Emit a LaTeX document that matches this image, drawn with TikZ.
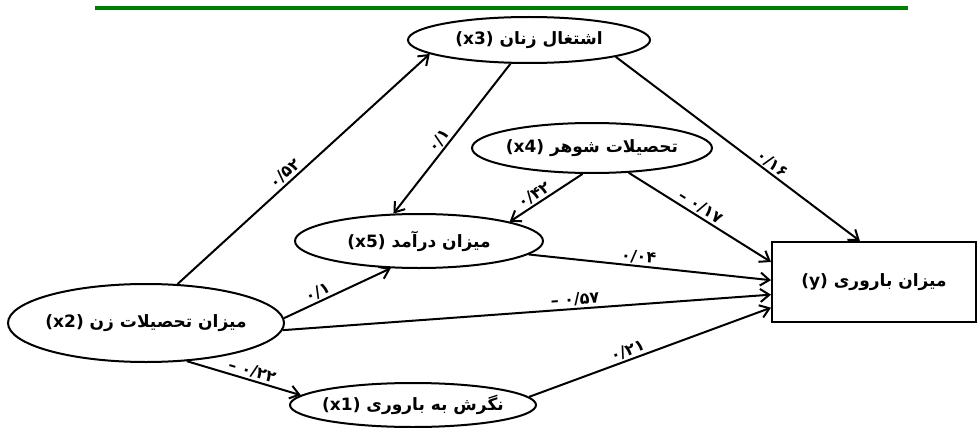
\documentclass[tikz,border=0pt]{standalone}
\usepackage{fontspec}
\setmainfont{DejaVu Sans}
\newfontfamily\fafont[Script=Arabic]{DejaVu Sans}
\TeXXeTstate=1
\usetikzlibrary{arrows.meta, shapes.geometric}
\definecolor{rulegreen}{RGB}{0, 128, 0}
\newcommand{\fa}[1]{{\fafont\beginR #1\endR}}

\begin{document}
\begin{tikzpicture}[x=1pt, y=-1pt,
  every node/.style={font=\bfseries\fontsize{17}{20}\selectfont},
  var/.style={ellipse, draw, line width=2pt, inner ysep=0pt, inner xsep=-40pt},
  coef/.style={font=\bfseries\fontsize{16}{18}\selectfont, sloped, inner sep=1.5pt},
  link/.style={line width=2pt, -{Straight Barb[length=9pt, width=13pt]}}]
  \useasboundingbox (0,0) rectangle (980,428);

  % Top rule
  \draw[rulegreen, line width=4pt] (95,8) -- (908,8);

  % Variables
  \node[var, minimum width=276pt, minimum height=78pt] (edu) at (146,323)
    {(x2)\ \fa{میزان تحصیلات زن}};
  \node[var, minimum width=242pt, minimum height=46pt] (job) at (529,40)
    {(x3)\ \fa{اشتغال زنان}};
  \node[var, minimum width=240pt, minimum height=50pt] (husb) at (592,148)
    {(x4)\ \fa{تحصیلات شوهر}};
  \node[var, minimum width=248pt, minimum height=54pt] (inc) at (419,241)
    {(x5)\ \fa{میزان درآمد}};
  \node[var, minimum width=246pt, minimum height=44pt] (att) at (413,405)
    {(x1)\ \fa{نگرش به باروری}};

  % Outcome box
  \node[draw, line width=2pt, minimum width=204pt, minimum height=80pt] (fert) at (874,282)
    {(y)\ \fa{میزان باروری}};

  % Paths from wife's education
  \draw[link] (edu.51) -- node[coef, pos=0.45, above] {\fafont ۰/۵۲} (job.188);
  \draw[link] (edu.2) -- node[coef, pos=0.35, above] {\fafont ۰/۱} (inc.224);
  \draw[link] (edu.-3) -- node[coef, pos=0.6, above] {–\ \fafont ۰/۵۷} (fert.187);
  \draw[link] (edu.-43) -- node[coef, pos=0.55, above] {–\ \fafont ۰/۲۲} (att.175);

  % Paths from employment and husband's education
  \draw[link] (job.232) -- node[coef, pos=0.55, above] {\fafont ۰/۱} (inc.133);
  \draw[link] (job.-11) -- node[coef, pos=0.62, above] {\fafont ۰/۱۶} (fert.109);
  \draw[link] (husb.250) -- node[coef, pos=0.6, above] {\fafont ۰/۴۲} (inc.12);
  \draw[link] (husb.-34) -- node[coef, pos=0.47, above] {–\ \fafont ۰/۱۷} (fert.169);

  % Paths into fertility
  \draw[link] (inc.-7) -- node[coef, pos=0.45, above] {\fafont ۰/۰۴} (fert.179);
  \draw[link] (att.4) -- node[coef, pos=0.42, above] {\fafont ۰/۲۱} (fert.194);
\end{tikzpicture}
\end{document}
